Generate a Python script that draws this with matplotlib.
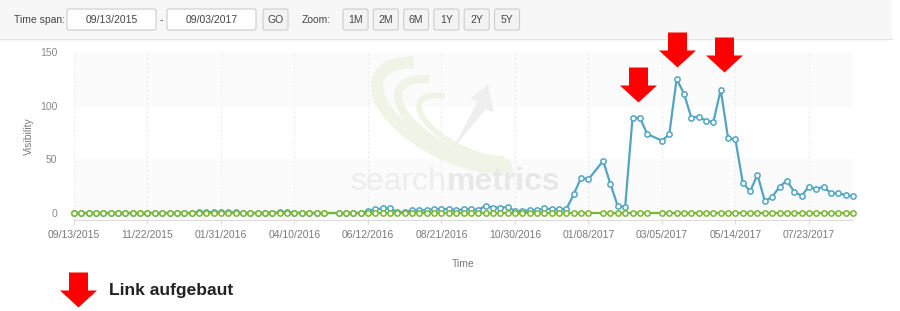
import numpy as np
import matplotlib
matplotlib.use("Agg")
import matplotlib.pyplot as plt
from matplotlib.path import Path
from matplotlib.patches import FancyBboxPatch, Rectangle, Arc, Polygon

plt.rcParams['font.family'] = ['Liberation Sans', 'DejaVu Sans']

# weekly visibility values, None = missing week
visibility = [0, 0, 0, 0, 0, 0, 0, 0, 0, 0,
              0, 0, 0, 0, 0, 0, 0, 0.8, 0.8, 0.5,
              0.8, 0.5, 0.5, 0, 0, 0, 0, 0.3, 0.5, 0.5,
              0.3, 0, 0, 0, 0, None, 0, 0, 0, 0,
              1.9, 3.4, 4.3, 4.3, 0.8, 1.0, 2.5, 2.5, 2.5, 3.7,
              3.4, 3.8, 2.5, 3.4, 3.4, 2.8, 6.8, 5.0, 5.0, 5.6,
              1.9, 1.5, 2.8, 2.5, 4.3, 3.4, 3.4, 3.7, 17.4, 32.9,
              31.4, None, 48.5, 27.0, 6.2, 5.9, 88.8, 88.8, 73.6, None,
              67.4, 73.3, 124.9, 111.2, 88.8, 89.8, 86.0, 84.8, 114.9, 69.6,
              68.6, 28.3, 20.2, 35.7, 11.2, 14.9, 24.5, 30.1, 19.9, 16.1,
              24.5, 22.4, 24.5, 18.4, 18.4, 16.8, 15.6]
baseline = [None if v is None else 0 for v in visibility]

tick_labels = ['09/13/2015', '11/22/2015', '01/31/2016', '04/10/2016', '06/12/2016',
               '08/21/2016', '10/30/2016', '01/08/2017', '03/05/2017', '05/14/2017',
               '07/23/2017']
tick_pos = list(range(0, 101, 10))

# red "link built" markers: week index and height of arrow tip
link_weeks = [76.7, 82.0, 88.4]
link_tips = [103, 136, 131]

blue = '#52a5c2'
green = '#77b82e'
red = '#ff0000'

fig = plt.figure(figsize=(9, 3.11), dpi=100)

# background layer in pixel coordinates (header, legend)
bg = fig.add_axes([0, 0, 1, 1])
bg.set_xlim(0, 900)
bg.set_ylim(311, 0)
bg.axis('off')
bg.set_zorder(0)

bg.add_patch(Rectangle((0, 0), 892, 38, facecolor='#f7f7f7', edgecolor='none'))
bg.plot([0, 892], [38.5, 38.5], color='#e4e4e4', lw=1)

def box(x, w, label, fill):
    bg.add_patch(FancyBboxPatch((x, 9), w, 21, boxstyle='round,pad=0,rounding_size=2',
                                facecolor=fill, edgecolor='#cccccc', lw=0.8))
    bg.text(x + w / 2, 20, label, ha='center', va='center', fontsize=7.5, color='#444444')

bg.text(14, 20, 'Time span:', ha='left', va='center', fontsize=7.5, color='#444444')
box(67, 89, '09/13/2015', 'white')
bg.text(161, 20, '-', ha='center', va='center', fontsize=7.5, color='#444444')
box(167, 89, '09/03/2017', 'white')
box(263, 25, 'GO', '#f3f3f3')
bg.text(302, 20, 'Zoom:', ha='left', va='center', fontsize=7.5, color='#444444')
for i, z in enumerate(['1M', '2M', '6M', '1Y', '2Y', '5Y']):
    box(343 + i * 30.3, 25, z, '#f3f3f3')

# legend arrow
arrow = Path([(0, 0), (18.5, 17), (9.5, 17), (9.5, 35), (-9.5, 35), (-9.5, 17), (-18.5, 17), (0, 0)],
             [Path.MOVETO] + [Path.LINETO] * 6 + [Path.CLOSEPOLY])
arrow_ms = 70 / (100 / 72)
bg.plot([78], [307], marker=arrow, ms=arrow_ms, color=red, mec='none', ls='none')
bg.text(109, 291, 'Link aufgebaut', ha='left', va='center', fontsize=12.5,
        fontweight='bold', color='#222222')

# main chart
ax = fig.add_axes([74 / 900, 1 - 220 / 311, 779 / 900, 168 / 311])
ax.set_zorder(1)
ax.set_facecolor('white')
ax.set_xlim(0, 106)
ax.set_ylim(-6.5, 150)

ax.axhspan(100, 150, color='#fbfbfb', zorder=0)
ax.axhspan(-6.5, 50, color='#fbfbfb', zorder=0)
for t in tick_pos:
    ax.axvline(t, color='#ececec', lw=0.8, ls=(0, (2, 2)), zorder=0.5)

# watermark logo, drawn in pixel coordinates
px = bg.transData
for k, (cx, cy, w, h, lw) in enumerate([(455, 115, 170, 80, 9), (462, 121, 140, 62, 6),
                                        (469, 127, 110, 44, 4)]):
    ax.add_patch(Arc((cx, cy), w, h, angle=27, theta1=15, theta2=205, transform=px,
                     color='#f0f4e6', lw=lw, zorder=0.6))
ax.add_patch(Polygon([(488, 84), (494, 113), (486, 109), (452, 150), (478, 101), (470, 99)],
                     closed=True, transform=px, facecolor='#efefef', edgecolor='none',
                     zorder=0.6))
wm = ax.text(0.355, 0.135, 'search', transform=ax.transAxes, fontsize=23, color='#ededed',
             ha='left', va='bottom', zorder=0.6)
ax.annotate('metrics', xy=(1, 0), xycoords=wm, fontsize=23, color='#e8e8e8',
            fontweight='bold', ha='left', va='bottom', zorder=0.6)

x = np.arange(len(visibility))
vis = np.array([np.nan if v is None else v for v in visibility], dtype=float)
base = np.array([np.nan if v is None else v for v in baseline], dtype=float)
ok = ~np.isnan(vis)

ax.plot(x[ok], vis[ok], color=blue, lw=1.6, marker='o', ms=3.8, mfc='white',
        mec=blue, mew=1.1, zorder=3, clip_on=False)
ax.plot(x[ok], base[ok], color=green, lw=1.6, marker='o', ms=3.8, mfc='white',
        mec=green, mew=1.1, zorder=4, clip_on=False)

ax.plot(link_weeks, link_tips, marker=arrow, ms=arrow_ms, color=red, mec='none',
        ls='none', clip_on=False, zorder=5)

for s in ['left', 'right', 'top']:
    ax.spines[s].set_visible(False)
ax.spines['bottom'].set_color('#dddddd')
ax.set_xticks(tick_pos)
ax.set_xticklabels(tick_labels)
ax.set_yticks([0, 50, 100, 150])
ax.tick_params(axis='x', length=3, color='#dddddd', labelsize=7.5, labelcolor='#7a7a7a', pad=4)
ax.tick_params(axis='y', length=0, labelsize=7.5, labelcolor='#8a8a8a', pad=12)
ax.set_xlabel('Time', fontsize=7.5, color='#7a7a7a', labelpad=14)
ax.set_ylabel('Visibility', fontsize=7.5, color='#7a7a7a', labelpad=4)

fig.savefig('out.png', dpi=100)
